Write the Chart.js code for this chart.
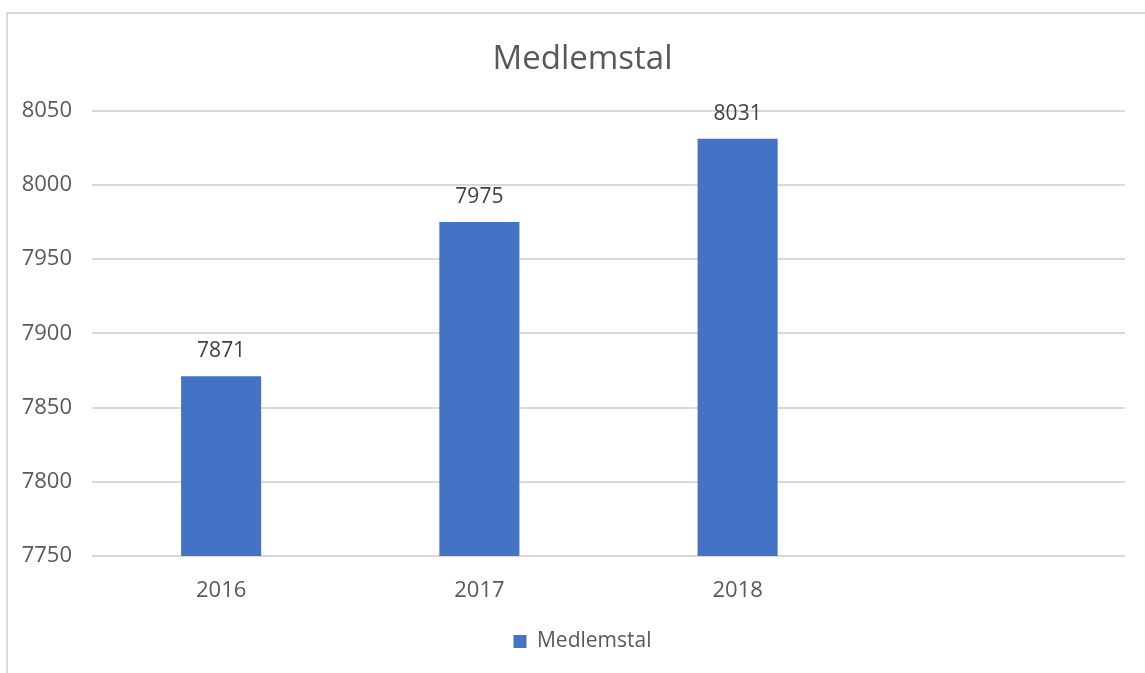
<!DOCTYPE html>
<html>
<head>
<meta charset="utf-8">
<script src="https://cdn.jsdelivr.net/npm/chart.js@4"></script>
<style>
  html, body { margin: 0; padding: 0; background: #fff; overflow: hidden; }
  #frame { position: absolute; left: 6px; top: 12px; width: 1160px; height: 700px; border: 2px solid #d9d9d9; box-sizing: border-box; }
  #wrap { position: absolute; left: 0; top: 0; width: 1145px; height: 673px; }
</style>
</head>
<body>
<div id="frame"></div>
<div id="wrap"><canvas id="chart"></canvas></div>
<script>
// chart data
const categories = ['2016', '2017', '2018', ''];
const members = [7871, 7975, 8031, null];
const seriesName = 'Medlemstal';
const yTicks = [7750, 7800, 7850, 7900, 7950, 8000, 8050];

const fontFamily = '"Open Sans", "Noto Sans", sans-serif';
const textColor = '#595959';

// draws the value above each bar
const valueLabels = {
    id: 'valueLabels',
    afterDatasetsDraw(chart) {
        const ctx = chart.ctx;
        ctx.save();
        ctx.font = '21px ' + fontFamily;
        ctx.fillStyle = '#404040';
        ctx.textAlign = 'center';
        ctx.textBaseline = 'middle';
        chart.getDatasetMeta(0).data.forEach((bar, i) => {
            const v = members[i];
            if (v == null) return;
            ctx.fillText(String(v), bar.x, bar.y - 25);
        });
        ctx.restore();
    }
};

// title and legend sit a bit right of the centre in the original
const shiftBoxes = {
    id: 'shiftBoxes',
    afterLayout(chart) {
        [chart.titleBlock, chart.legend].forEach(box => {
            if (!box) return;
            box.left += 20;
            box.right += 20;
        });
    }
};

new Chart(document.getElementById('chart'), {
    type: 'bar',
    data: {
        labels: categories,
        datasets: [{
            label: seriesName,
            data: members,
            backgroundColor: '#4472C4',
            borderWidth: 0,
            barPercentage: 0.31,
            categoryPercentage: 1
        }]
    },
    options: {
        responsive: true,
        maintainAspectRatio: false,
        animation: false,
        layout: { padding: { left: 0, right: 20, top: 0, bottom: 11 } },
        plugins: {
            title: {
                display: true,
                text: seriesName,
                color: textColor,
                font: { family: fontFamily, size: 33, weight: 'normal' },
                padding: { top: 40, bottom: 31 }
            },
            legend: {
                position: 'bottom',
                labels: {
                    color: textColor,
                    font: { family: fontFamily, size: 21 },
                    boxWidth: 13,
                    boxHeight: 13,
                    padding: 10
                }
            },
            tooltip: { enabled: false }
        },
        scales: {
            x: {
                grid: { display: false },
                border: { display: false },
                ticks: { color: textColor, font: { family: fontFamily, size: 22 }, padding: 14 },
                afterFit(scale) { scale.height = 65; }
            },
            y: {
                min: yTicks[0],
                max: yTicks[yTicks.length - 1],
                afterBuildTicks(scale) { scale.ticks = yTicks.map(v => ({ value: v })); },
                grid: { color: '#d9d9d9', lineWidth: 2, drawTicks: false },
                border: { display: false },
                ticks: {
                    color: textColor,
                    font: { family: fontFamily, size: 22 },
                    padding: 20,
                    callback: v => String(v)
                },
                afterFit(scale) { scale.width = 92; }
            }
        }
    },
    plugins: [valueLabels, shiftBoxes]
});
</script>
</body>
</html>
